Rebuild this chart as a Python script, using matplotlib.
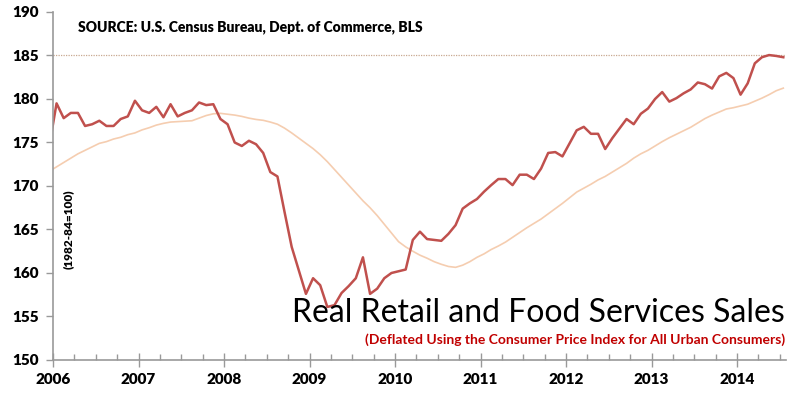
import matplotlib.pyplot as plt
from matplotlib.ticker import MultipleLocator

# monthly data, Dec 2005 .. Jul 2014
start_year, start_month = 2005, 12

real_sales = [174.7,
    179.5, 177.8, 178.4, 178.4, 176.9, 177.1, 177.5, 176.9, 176.9, 177.7, 178.0, 179.8,
    178.7, 178.4, 179.1, 177.9, 179.4, 178.0, 178.4, 178.7, 179.6, 179.3, 179.4, 177.7,
    177.1, 175.0, 174.6, 175.2, 174.8, 173.8, 171.6, 171.1, 167.0, 163.0, 160.3, 157.6,
    159.4, 158.6, 156.1, 156.3, 157.7, 158.5, 159.4, 161.8, 157.6, 158.2, 159.4, 160.0,
    160.2, 160.4, 163.8, 164.75, 163.9, 163.8, 163.7, 164.5, 165.5, 167.4, 168.0, 168.5,
    169.35, 170.1, 170.8, 170.8, 170.1, 171.3, 171.3, 170.8, 172.0, 173.8, 173.9, 173.4,
    174.9, 176.4, 176.8, 176.0, 176.0, 174.25, 175.5, 176.6, 177.7, 177.1, 178.3, 178.9,
    180.0, 180.8, 179.7, 180.1, 180.65, 181.1, 181.9, 181.7, 181.2, 182.6, 183.0, 182.4,
    180.5, 181.8, 184.1, 184.8, 185.05, 184.95, 184.8]

trend = [171.7,
    172.2, 172.7, 173.2, 173.7, 174.1, 174.5, 174.9, 175.1, 175.4, 175.6, 175.9, 176.1,
    176.45, 176.7, 177.0, 177.2, 177.35, 177.4, 177.45, 177.5, 177.8, 178.1, 178.3, 178.35,
    178.25, 178.15, 178.0, 177.8, 177.65, 177.55, 177.35, 177.1, 176.65, 176.1, 175.5, 174.9,
    174.3, 173.6, 172.8, 171.9, 171.0, 170.1, 169.2, 168.3, 167.5, 166.6, 165.6, 164.6,
    163.6, 163.0, 162.5, 162.05, 161.7, 161.3, 161.0, 160.75, 160.65, 160.9, 161.3, 161.8,
    162.2, 162.7, 163.1, 163.55, 164.1, 164.65, 165.2, 165.7, 166.2, 166.8, 167.4, 168.0,
    168.65, 169.3, 169.75, 170.2, 170.7, 171.1, 171.6, 172.1, 172.6, 173.2, 173.7, 174.1,
    174.6, 175.1, 175.55, 175.95, 176.35, 176.75, 177.25, 177.75, 178.15, 178.5, 178.85, 179.0,
    179.2, 179.4, 179.75, 180.1, 180.5, 180.95, 181.25]

years = [2006, 2007, 2008, 2009, 2010, 2011, 2012, 2013, 2014]

# each month plotted at mid-month
t = []
y, m = start_year, start_month
for _ in real_sales:
    t.append(y + (m - 0.5) / 12)
    m += 1
    if m > 12:
        y, m = y + 1, 1

plt.rcParams['font.family'] = ['Lato', 'DejaVu Sans']

fig = plt.figure(figsize=(8, 3.93), dpi=100)
ax = fig.add_axes([53 / 800, 1 - 360 / 393, 733 / 800, 348 / 393])

ax.axhline(max(real_sales), color="#c8a890", linestyle=(0, (1, 1)), linewidth=0.9)
ax.plot(t, trend, color="#f5cdb0", linewidth=1.2)
ax.plot(t, real_sales, color="#c0504d", linewidth=1.8)

ax.set_xlim(2006, 2006 + 733 / 85.5)
ax.set_ylim(150, 190)
ax.set_xticks(years)
ax.set_xticklabels([str(yr) for yr in years])
ax.xaxis.set_minor_locator(MultipleLocator(0.25))
ax.yaxis.set_major_locator(MultipleLocator(5))

for s in ["top", "right"]:
    ax.spines[s].set_visible(False)
for s in ["left", "bottom"]:
    ax.spines[s].set_color("#999999")
    ax.spines[s].set_linewidth(1.2)

ax.tick_params(axis="x", which="major", direction="inout", length=10, width=1, color="#999999", pad=4)
ax.tick_params(axis="x", which="minor", direction="in", length=4, width=1, color="#999999")
ax.tick_params(axis="y", which="major", direction="out", length=5, width=1, color="#999999", pad=5)
for lab in ax.get_xticklabels() + ax.get_yticklabels():
    lab.set_fontsize(11)
    lab.set_fontweight("heavy")

fig.text(78 / 800, 1 - 27 / 393, "SOURCE: U.S. Census Bureau, Dept. of Commerce, BLS",
         fontsize=10, fontweight="heavy", va="center", ha="left")
fig.text(68 / 800, 1 - 229 / 393, "(1982-84=100)", rotation=90, fontsize=8.5,
         fontweight="heavy", va="center", ha="center")
fig.text(785 / 800, 1 - 322 / 393, "Real Retail and Food Services Sales",
         fontsize=23, va="baseline", ha="right")
fig.text(785 / 800, 1 - 340 / 393,
         "(Deflated Using the Consumer Price Index for All Urban Consumers)",
         fontsize=10, fontweight="bold", color="#c00000", va="center", ha="right")

plt.savefig("out.png", dpi=100)
